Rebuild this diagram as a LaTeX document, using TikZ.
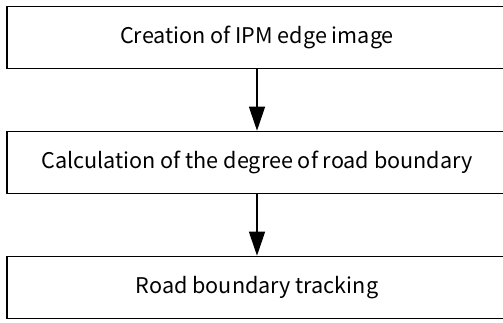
\documentclass[tikz,border=0pt]{standalone}
\usepackage{fontspec}
\newfontfamily\jpfont{Noto Sans CJK JP}
\usetikzlibrary{arrows.meta}
\begin{document}
\begin{tikzpicture}[x=1pt,y=-1pt,
  stepbox/.style={draw=black, line width=1.6pt, minimum width=500pt, minimum height=62pt, inner sep=0pt, font=\jpfont\fontsize{21.6}{24}\selectfont},
  flow/.style={line width=1.3pt, -{Triangle[length=24pt,width=16pt]}}]
\useasboundingbox (0,0) rectangle (503,322);
\clip (0,0) rectangle (503,322);
\node[stepbox] (a) at (257,37.5) {Creation of IPM edge image};
\node[stepbox] (b) at (257,162.5) {Calculation of the degree of road boundary};
\node[stepbox] (c) at (257,287.5) {Road boundary tracking};
\draw[flow] (a) -- (b);
\draw[flow] (b) -- (c);
\end{tikzpicture}
\end{document}
